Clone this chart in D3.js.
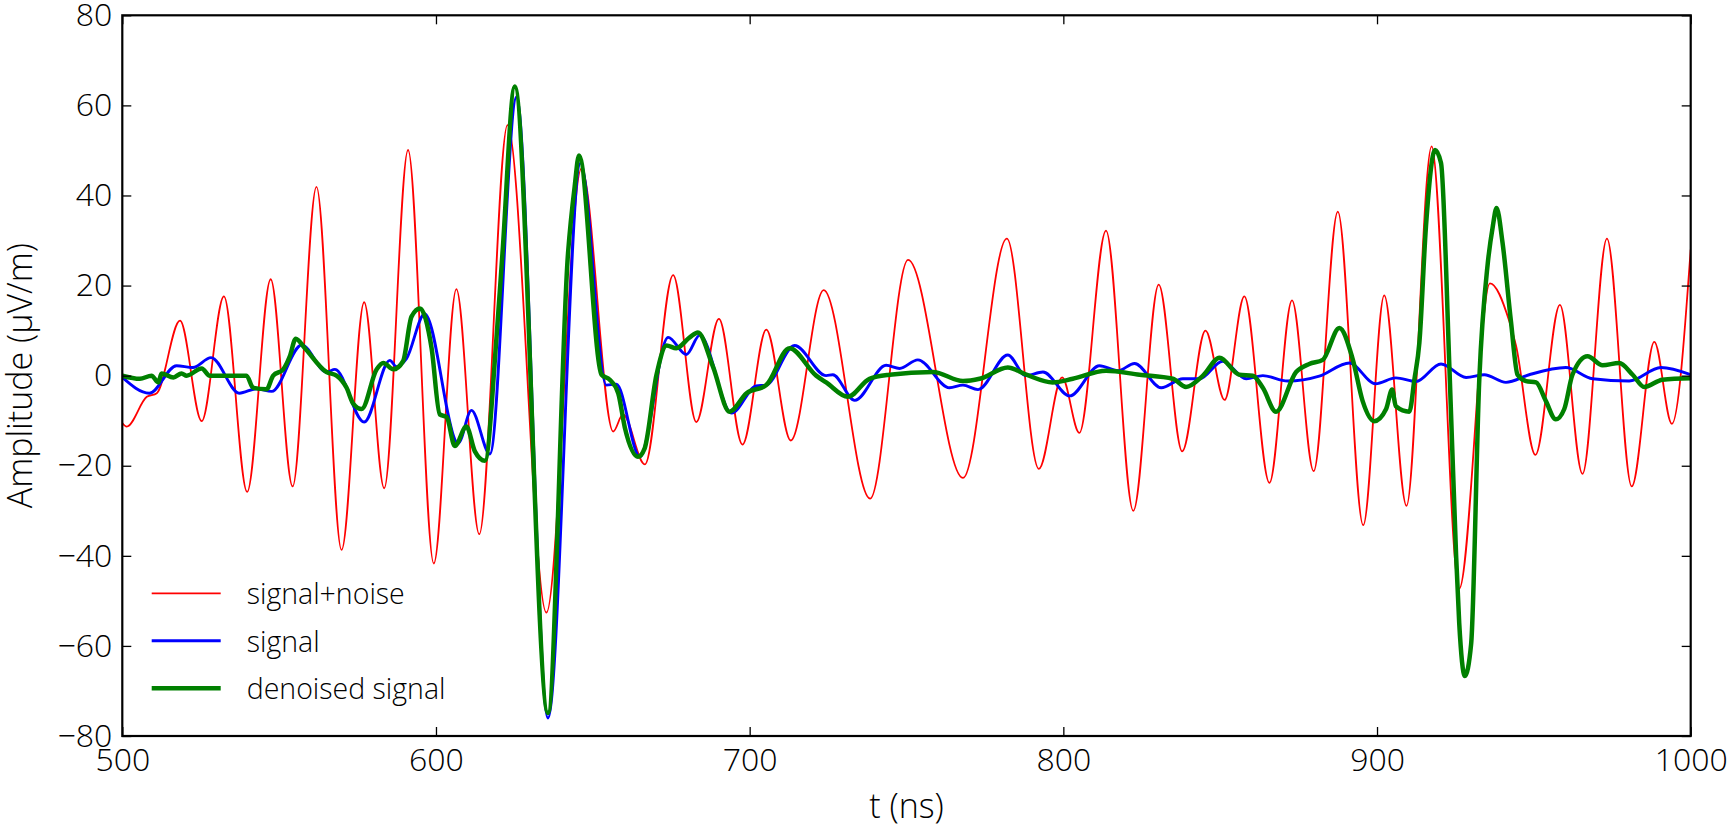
<!DOCTYPE html>
<html>
<head>
<meta charset="utf-8">
<script src="https://cdn.jsdelivr.net/npm/d3@7"></script>
<style>
  html, body { margin: 0; padding: 0; background: #ffffff; }
  svg { display: block; }
  text { font-family: "Open Sans", "DejaVu Sans", sans-serif; font-weight: 300; fill: #000; }
</style>
</head>
<body>
<svg id="chart" width="1728" height="828"></svg>
<script>
// ---- data ----
const xTicks = [500, 600, 700, 800, 900, 1000];
const yTicks = [-80, -60, -40, -20, 0, 20, 40, 60, 80];
const seriesLabels = ["signal+noise", "signal", "denoised signal"];
const seriesColors = ["#ff0000", "#0000ff", "#008000"];

// [t (ns), amplitude (µV/m)]
const signalNoise = [
  [500,-10.5],[501.4,-11.3],[507.8,-4.7],[511,-3.9],[518.4,12.2],[525.3,-10.1],[532.4,17.6],
  [539.8,-25.8],[547.3,21.4],[554.3,-24.6],[561.9,41.9],[569.9,-38.7],[577.1,16.3],[583.5,-25.0],
  [591.1,50.1],[599.3,-41.7],[606.5,19.2],[613.8,-35.2],[622.8,55.6],[635.2,-52.6],[646.4,46],
  [656.5,-12.4],[659.6,-8.6],[666.6,-19.7],[675.6,22.3],[683.0,-10.3],[690.2,12.6],[697.7,-15.3],
  [705.3,10.2],[713.1,-14.4],[723.6,19.0],[738.4,-27.3],[750.5,25.7],[768.0,-22.7],[782.0,30.4],
  [792.2,-20.7],[799.6,-0.4],[805.1,-12.7],[813.6,32.2],[822.3,-30.0],[830.4,20.2],[837.9,-16.8],
  [845.3,10.0],[851.4,-5.4],[857.7,17.6],[865.7,-23.8],[872.9,16.7],[879.8,-21.2],[887.5,36.4],
  [895.6,-33.2],[902.3,17.8],[909.4,-28.9],[917.4,50.9],[926.2,-47.3],[936.0,20.5],[942.2,12.0],
  [944.3,6.7],[950.5,-17.6],[958.3,15.7],[965.5,-21.8],[973.3,30.4],[981.2,-24.6],[988.4,7.5],
  [994.0,-10.7],[1000,28]
];

const signal = [
  [500,-0.4],[508.6,-3.9],[517.3,2.2],[522.5,1.8],[528.3,4.0],[537.3,-3.9],[542.8,-2.9],[547.6,-3.5],
  [557.2,6.8],[565.1,0.8],[567.8,1.4],[577.1,-10.3],[585.3,3.4],[587.4,2.0],[590.6,3.8],[596.4,13.7],
  [607.1,-15.0],[611.3,-7.7],[617.2,-17.4],[625.7,61.9],[635.7,-76],[646.1,47.2],[654.3,-2.1],
  [657.5,-1.9],[665.0,-18.0],[674.0,8.5],[679.8,4.7],[684.1,9.0],[694.2,-8.3],[702.1,-2.3],
  [705.3,-2.1],[714.3,6.7],[724.4,0],[726.5,0.2],[733.5,-5.5],[743.5,2.3],[747.8,1.6],[753.6,3.5],
  [763.7,-2.7],[768,-2.1],[772.8,-3.1],[782.3,4.6],[788,0],[793.5,0.8],[802,-4.5],[811.5,2.2],
  [817.4,1.1],[822.7,2.7],[831.2,-2.7],[838.1,-0.7],[843.4,-0.7],[850.8,3.2],[858.3,-0.7],[863.6,0],
  [871.5,-1.2],[881.6,-0.1],[891.2,2.8],[899.5,-1.8],[906,-0.5],[912.4,-1.3],[920.4,2.6],[928.4,-0.4],
  [934.2,0.2],[941.1,-1.5],[948.5,0.2],[960.2,1.8],[968.7,-0.7],[980.4,-1.2],[990.5,1.8],[1000,0.2]
];

const denoised = [
  [500,0],[505.6,-0.7],[509.3,0],[511.5,-1.5],[512.5,0.5],[516.3,-0.4],[518.9,0.5],[520.5,0],
  [525.3,1.6],[527.9,0],[539.6,0],[541.7,-2.7],[546,-3],[548.1,0],[551.3,1.4],[553.4,4.3],[555.3,8.2],
  [558.2,6.1],[565.1,0.8],[568.3,0],[571.5,-2.7],[573.6,-6.2],[576.3,-7.4],[581.1,1.4],[583.2,2.8],
  [586.4,1.4],[589.5,3.2],[592.2,13.1],[594.9,14.9],[598.6,6.1],[601.2,-8.6],[603.4,-9.2],[606.0,-15.6],
  [609.7,-11.3],[612.4,-16.8],[615.6,-18.9],[619.3,8.5],[621.2,27.2],[625.1,64.2],[635.7,-74.9],
  [642.1,27.2],[644.2,41.9],[645.6,48.9],[652.8,0.2],[655.4,-0.9],[658.1,-3.9],[660.2,-11.5],
  [664.4,-18.0],[666.5,-16.2],[670.3,0.2],[673.5,6.7],[676.6,6.1],[680.9,8.5],[683.5,9.6],[688.3,2.0],
  [693.6,-8.0],[699.0,-3.9],[705.3,-2.1],[712.7,6.1],[721.2,0],[724.4,-1.5],[731.3,-4.7],[738.2,-0.7],
  [744.6,0.2],[758.4,0.8],[768.0,-1.2],[773.3,-0.7],[782.3,1.8],[788.2,0.2],[796.6,-1.5],[803.0,-0.7],
  [813.6,1.1],[824.3,0.2],[834.9,-0.7],[839.1,-2.5],[844.5,0],[849.8,4.0],[856.1,0.2],[860.4,0],
  [863.6,-2.7],[867.8,-8.0],[874.2,0.8],[878.4,2.6],[882.7,3.5],[888.0,10.6],[892.2,3.8],[895.4,-5.6],
  [899.1,-10.1],[902.9,-7.4],[904.8,-3.1],[906.0,-6.8],[910.3,-8.0],[911.9,-0.9],[913.5,7.3],
  [915.6,33.1],[918.5,50.1],[920.4,47.2],[923.1,1.4],[925.2,-39.7],[926.2,-54.9],[928.0,-66.7],
  [930.0,-59.6],[932.6,-0.9],[935.3,24.9],[936.9,33.1],[938.1,37.2],[940.0,29.6],[942.7,12.0],
  [944.8,0.2],[947.5,-1.2],[950.7,-1.5],[953.8,-5.6],[957.0,-9.7],[959.7,-7.4],[962.3,0.2],[967.1,4.3],
  [971.9,2.3],[977.2,2.8],[981.5,0.2],[985.2,-2.5],[991.0,-0.9],[1000,-0.6]
];

// ---- layout ----
const W = 1728, H = 828;
const L = 122.3, R = 1690.7, T = 15.3, B = 736;

const svg = d3.select("#chart");
const x = d3.scaleLinear().domain([500, 1000]).range([L, R]);
const y = d3.scaleLinear().domain([-80, 80]).range([B, T]);

svg.append("defs").append("clipPath").attr("id", "clip")
  .append("rect").attr("x", L).attr("y", T).attr("width", R - L).attr("height", B - T);

const line = d3.line().x(d => x(d[0])).y(d => y(d[1])).curve(d3.curveMonotoneX);

const series = [signalNoise, signal, denoised];
const widths = [1.8, 2.9, 4.5];
const g = svg.append("g").attr("clip-path", "url(#clip)");
series.forEach((s, i) => {
  g.append("path").datum(s).attr("d", line)
    .attr("fill", "none").attr("stroke", seriesColors[i])
    .attr("stroke-width", widths[i]).attr("stroke-linejoin", "round");
});

// ---- axes (ticks inside on all four sides) ----
const fmtY = d => d < 0 ? "\u2212" + Math.abs(d) : String(d);
const tickLen = 9;

const xb = svg.append("g").attr("transform", `translate(0,${B})`)
  .call(d3.axisBottom(x).tickValues(xTicks).tickSizeInner(-tickLen).tickSizeOuter(0).tickPadding(12).tickFormat(d3.format("d")));
const xt = svg.append("g").attr("transform", `translate(0,${T})`)
  .call(d3.axisTop(x).tickValues(xTicks).tickSizeInner(-tickLen).tickSizeOuter(0).tickFormat(""));
const yl = svg.append("g").attr("transform", `translate(${L},0)`)
  .call(d3.axisLeft(y).tickValues(yTicks).tickSizeInner(-tickLen).tickSizeOuter(0).tickPadding(10).tickFormat(fmtY));
const yr = svg.append("g").attr("transform", `translate(${R},0)`)
  .call(d3.axisRight(y).tickValues(yTicks).tickSizeInner(-tickLen).tickSizeOuter(0).tickFormat(""));

[xb, xt, yl, yr].forEach(a => {
  a.select(".domain").remove();
  a.selectAll(".tick line").attr("stroke", "#000").attr("stroke-width", 1.3);
  a.selectAll(".tick text").attr("font-family", "Open Sans, DejaVu Sans, sans-serif")
    .attr("font-weight", 300).attr("font-size", 32).attr("fill", "#000");
});

// frame
svg.append("rect").attr("x", L).attr("y", T).attr("width", R - L).attr("height", B - T)
  .attr("fill", "none").attr("stroke", "#000").attr("stroke-width", 2.2);

// axis labels
svg.append("text").attr("x", (L + R) / 2).attr("y", 818)
  .attr("text-anchor", "middle").attr("font-size", 34).text("t (ns)");
svg.append("text").attr("transform", `translate(32,${(T + B) / 2}) rotate(-90)`)
  .attr("text-anchor", "middle").attr("font-size", 34).text("Amplitude (\u03bcV/m)");

// legend
const legY = [593.3, 640.7, 688.3];
const leg = svg.append("g");
seriesLabels.forEach((lab, i) => {
  leg.append("line").attr("x1", 151.7).attr("x2", 220.7).attr("y1", legY[i]).attr("y2", legY[i])
    .attr("stroke", seriesColors[i]).attr("stroke-width", widths[i]);
  leg.append("text").attr("x", 246.7).attr("y", legY[i] + 11)
    .attr("font-size", 28.5).text(lab);
});
</script>
</body>
</html>
